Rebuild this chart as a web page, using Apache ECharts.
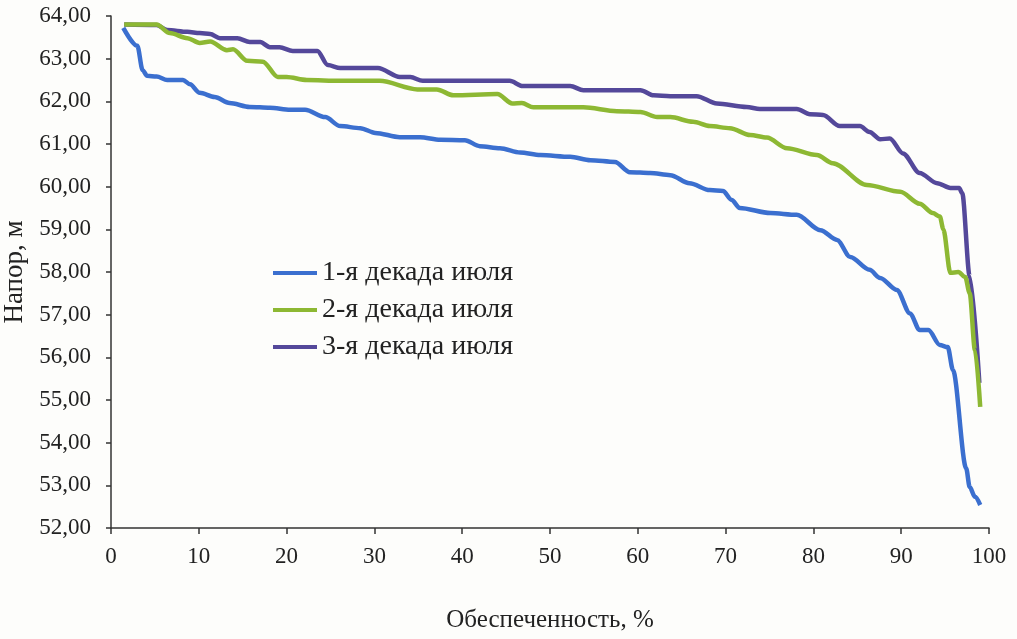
<!DOCTYPE html>
<html>
<head>
<meta charset="utf-8">
<script src="https://cdn.jsdelivr.net/npm/echarts@6/dist/echarts.min.js"></script>
<style>
html,body{margin:0;padding:0;background:#fdfdfb;}
#c{width:1017px;height:639px;}
</style>
</head>
<body>
<div id="c"></div>
<script>
const seriesNames = ['1-я декада июля', '2-я декада июля', '3-я декада июля'];
const xTicks = [0, 10, 20, 30, 40, 50, 60, 70, 80, 90, 100];

const blueX = [1.4,3.0,3.6,4.1,5.2,6.4,8.2,9.0,10.1,11.8,13.5,15.8,18.1,20.4,22.1,24.4,26.1,28.4,30.1,32.9,35.2,37.5,40.3,42.0,44.3,46.6,48.9,52.3,54.6,57.4,59.1,61.4,63.7,65.9,68.2,69.7,70.7,71.6,75.1,78.1,80.8,82.7,84.2,86.4,87.6,89.5,91.0,92.1,93.1,94.4,95.3,95.9,97.4,97.8,98.4,99.0];
const blueY = [63.72,63.3,62.73,62.6,62.58,62.5,62.5,62.4,62.2,62.1,61.96,61.87,61.85,61.8,61.8,61.63,61.42,61.37,61.26,61.16,61.16,61.1,61.09,60.95,60.9,60.8,60.74,60.7,60.62,60.58,60.34,60.32,60.27,60.08,59.92,59.9,59.69,59.5,59.38,59.34,58.98,58.75,58.35,58.05,57.86,57.58,57.03,56.64,56.64,56.29,56.24,55.7,53.4,52.96,52.73,52.54];

const greenX = [1.5,5.2,6.7,8.7,10.1,11.3,13.2,13.9,15.5,17.3,19.0,20.0,22.3,26.1,30.6,34.9,37.1,39.0,44.0,45.7,46.8,48.1,53.8,57.6,60.3,62.2,63.7,66.3,68.2,70.5,72.8,74.7,77.0,80.4,82.2,86.1,89.9,92.1,93.6,94.4,94.8,95.6,96.5,97.3,97.8,98.4,99.0];
const greenY = [63.8,63.8,63.6,63.48,63.37,63.4,63.2,63.22,62.95,62.93,62.57,62.57,62.5,62.48,62.48,62.28,62.28,62.14,62.17,61.95,61.96,61.86,61.86,61.77,61.75,61.63,61.63,61.52,61.42,61.37,61.21,61.15,60.9,60.74,60.55,60.04,59.88,59.6,59.38,59.3,59.0,57.98,58.0,57.88,57.5,56.17,54.84];

const purpleX = [1.5,5.2,6.4,8.7,10.1,11.3,12.4,14.4,15.8,17.0,18.1,19.2,20.7,23.5,24.7,26.1,30.4,32.9,34.1,35.5,45.4,46.9,52.3,53.8,60.3,61.8,63.7,66.7,69.0,72.4,73.9,78.1,79.6,81.1,83.0,85.3,86.4,87.6,88.7,90.2,92.1,94.1,95.6,96.6,96.95,97.8,98.9];
const purpleY = [63.8,63.79,63.67,63.63,63.6,63.58,63.48,63.48,63.39,63.39,63.27,63.27,63.18,63.18,62.85,62.78,62.78,62.57,62.57,62.48,62.48,62.36,62.36,62.26,62.26,62.14,62.12,62.12,61.95,61.87,61.82,61.82,61.7,61.68,61.42,61.42,61.28,61.11,61.13,60.78,60.32,60.08,59.97,59.97,59.85,57.9,55.4];

const colors = ['#3b6fcf', '#8db833', '#54489a'];
const zip = (xs, ys) => xs.map((x, i) => [x, ys[i]]);
const dataSets = [zip(blueX, blueY), zip(greenX, greenY), zip(purpleX, purpleY)];

const font = "'Liberation Serif', 'Times New Roman', serif";
const chart = echarts.init(document.getElementById('c'), null, {renderer: 'canvas'});
chart.setOption({
  backgroundColor: '#fdfdfb',
  animation: false,
  grid: {left: 111, right: 28, top: 16, bottom: 111, containLabel: false, outerBoundsMode: 'none'},
  legend: {
    orient: 'vertical',
    left: 268,
    top: 254,
    itemWidth: 44,
    itemHeight: 4,
    itemGap: 9,
    icon: 'rect',
    textStyle: {fontFamily: font, fontSize: 28, color: '#222', lineHeight: 28},
    data: seriesNames
  },
  xAxis: {
    type: 'value',
    min: 0, max: 100, interval: 10,
    name: 'Обеспеченность, %',
    nameLocation: 'middle',
    nameGap: 80,
    nameTextStyle: {fontFamily: font, fontSize: 25, color: '#222'},
    axisLine: {lineStyle: {color: '#333', width: 1.5}},
    axisTick: {show: true, length: 6, lineStyle: {color: '#333', width: 1.5}},
    axisLabel: {fontFamily: font, fontSize: 23, color: '#222', margin: 17,
      formatter: v => xTicks.includes(v) ? String(v) : ''},
    splitLine: {show: false}
  },
  yAxis: {
    type: 'value',
    min: 52, max: 64, interval: 1,
    name: 'Напор, м',
    nameLocation: 'middle',
    nameGap: 78,
    nameTextStyle: {fontFamily: font, fontSize: 27, color: '#222'},
    axisLine: {show: true, lineStyle: {color: '#333', width: 1.5}},
    axisTick: {show: true, length: 5, lineStyle: {color: '#333', width: 1.5}},
    axisLabel: {fontFamily: font, fontSize: 23, color: '#222', margin: 20,
      formatter: v => v.toFixed(2).replace('.', ',')},
    splitLine: {show: false}
  },
  series: seriesNames.map((n, i) => ({
    name: n,
    type: 'line',
    data: dataSets[i],
    showSymbol: false,
    smooth: 0.3,
    smoothMonotone: 'x',
    lineStyle: {color: colors[i], width: 4.5},
    itemStyle: {color: colors[i]},
    z: 3 - i
  }))
});
</script>
</body>
</html>
